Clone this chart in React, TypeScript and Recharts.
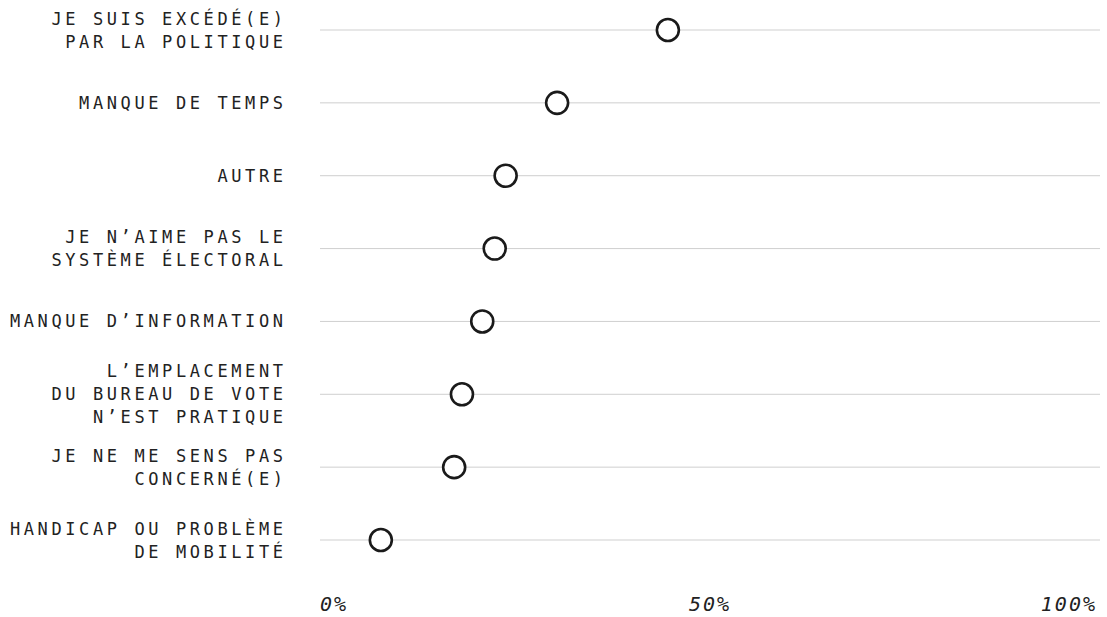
import { ScatterChart, Scatter, XAxis, YAxis, CartesianGrid } from 'recharts';

const reasons = [
  'JE SUIS EXCÉDÉ(E)\nPAR LA POLITIQUE',
  'MANQUE DE TEMPS',
  'AUTRE',
  'JE N’AIME PAS LE\nSYSTÈME ÉLECTORAL',
  'MANQUE D’INFORMATION',
  'L’EMPLACEMENT\nDU BUREAU DE VOTE\nN’EST PRATIQUE',
  'JE NE ME SENS PAS\nCONCERNÉ(E)',
  'HANDICAP OU PROBLÈME\nDE MOBILITÉ',
];

const shares = [44.6, 30.4, 23.8, 22.4, 20.8, 18.2, 17.2, 7.8];

const xTicks = [0, 50, 100];

const data = reasons.map((reason, i) => ({ reason, share: shares[i] }));

const LABEL_FONT = '"DejaVu Sans Mono", monospace';
const LS = 3.6;

function ReasonTick({ x, y, payload }: any) {
  const lines = String(payload.value).split('\n');
  const lineH = 23;
  const start = -((lines.length - 1) * lineH) / 2;
  return (
    <text
      x={x + LS}
      y={y}
      textAnchor="end"
      fill="#222"
      fontSize={17}
      fontFamily={LABEL_FONT}
      style={{ letterSpacing: LS }}
    >
      {lines.map((line, i) => (
        <tspan key={i} x={x + LS} dy={i === 0 ? start + 6 : lineH}>
          {line}
        </tspan>
      ))}
    </text>
  );
}

function PctTick({ x, y, payload }: any) {
  const v = payload.value as number;
  const anchor = v === 0 ? 'start' : v === 100 ? 'end' : 'middle';
  return (
    <text
      x={v === 100 ? x + 2 : x}
      y={y + 41}
      textAnchor={anchor}
      fill="#222"
      fontSize={20}
      fontFamily={LABEL_FONT}
      fontStyle="italic"
      style={{ letterSpacing: 2 }}
    >
      {`${v}%`}
    </text>
  );
}

export default function App() {
  return (
    <div style={{ position: 'absolute', left: 0, top: 0, width: 1107, height: 617, background: '#fff' }}>
      <ScatterChart width={1107} height={617} margin={{ top: 0, right: 7, bottom: 0, left: 0 }}>
        <CartesianGrid horizontal vertical={false} syncWithTicks stroke="#cfcfcf" strokeWidth={1} />
        <XAxis
          type="number"
          dataKey="share"
          domain={[0, 100]}
          ticks={xTicks}
          axisLine={false}
          tickLine={false}
          tickSize={0}
          tickMargin={0}
          height={47}
          tick={<PctTick />}
        />
        <YAxis
          type="category"
          dataKey="reason"
          scale="point"
          padding={{ top: 30, bottom: 30 }}
          width={320}
          axisLine={false}
          tickLine={false}
          tickSize={0}
          tickMargin={37}
          interval={0}
          reversed
          tick={<ReasonTick />}
        />
        <Scatter
          data={data}
          isAnimationActive={false}
          shape={(p: any) => (
            <circle cx={p.cx} cy={p.cy} r={11} fill="#fff" stroke="#1a1a1a" strokeWidth={2.6} />
          )}
        />
      </ScatterChart>
    </div>
  );
}
